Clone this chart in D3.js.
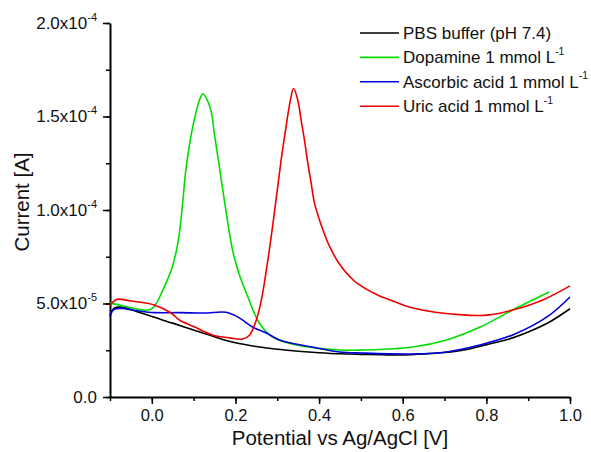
<!DOCTYPE html>
<html>
<head>
<meta charset="utf-8">
<script src="https://cdn.jsdelivr.net/npm/d3@7"></script>
<style>
  body { margin: 0; background: #fff; }
  svg { font-family: Arial, "Liberation Sans", sans-serif; }
</style>
</head>
<body>
<svg id="chart" width="591" height="452"></svg>
<script>
// potential in V, current in units of 1e-5 A
const pbsV = [-0.1, -0.09, -0.07, -0.04, 0, 0.05, 0.1, 0.15, 0.2, 0.25, 0.3, 0.35, 0.4, 0.45, 0.5, 0.55, 0.6, 0.65, 0.7, 0.75, 0.8, 0.85, 0.9, 0.95, 1.0]
const pbsI = [4.3, 4.75, 4.8, 4.6, 4.3, 3.95, 3.58, 3.22, 2.9, 2.7, 2.55, 2.45, 2.37, 2.31, 2.28, 2.26, 2.25, 2.3, 2.38, 2.53, 2.8, 3.07, 3.48, 4.0, 4.72]

const dopV = [-0.1, -0.07, -0.04, -0.015, 0.0, 0.012, 0.025, 0.037, 0.049, 0.058, 0.066, 0.074, 0.082, 0.094, 0.106, 0.115, 0.122, 0.13, 0.142, 0.15, 0.162, 0.174, 0.193, 0.21, 0.226, 0.257, 0.289, 0.346, 0.449, 0.504, 0.624, 0.705, 0.785, 0.863, 0.95]
const dopI = [5.02, 4.88, 4.72, 4.64, 4.72, 5.05, 5.65, 6.25, 6.95, 7.75, 8.77, 10.44, 12.25, 14.0, 15.26, 15.95, 16.22, 16.0, 15.26, 14.0, 12.25, 10.44, 7.86, 6.5, 5.56, 3.96, 3.21, 2.78, 2.51, 2.51, 2.67, 3.05, 3.74, 4.65, 5.61]

const ascV = [-0.1, -0.09, -0.074, -0.035, 0.006, 0.066, 0.126, 0.178, 0.21, 0.241, 0.274, 0.305, 0.384, 0.449, 0.504, 0.624, 0.705, 0.784, 0.863, 0.945, 1.0]
const ascI = [4.39, 4.69, 4.74, 4.61, 4.51, 4.51, 4.49, 4.53, 4.22, 3.74, 3.42, 3.05, 2.67, 2.41, 2.35, 2.3, 2.41, 2.78, 3.32, 4.28, 5.35]

const uricV = [-0.1, -0.083, -0.05, 0.006, 0.046, 0.066, 0.1, 0.145, 0.186, 0.217, 0.234, 0.25, 0.262, 0.281, 0.297, 0.31, 0.32, 0.33, 0.339, 0.349, 0.357, 0.365, 0.373, 0.381, 0.389, 0.401, 0.413, 0.425, 0.449, 0.473, 0.489, 0.545, 0.569, 0.624, 0.744, 0.808, 0.863, 0.935, 1.0]
const uricI = [4.92, 5.22, 5.13, 4.92, 4.49, 4.12, 3.77, 3.32, 3.16, 3.1, 3.32, 4.12, 5.19, 7.86, 10.53, 12.8, 14.3, 15.7, 16.5, 15.88, 14.81, 13.74, 12.51, 11.44, 10.37, 9.47, 8.7, 8.05, 7.1, 6.45, 6.12, 5.4, 5.2, 4.76, 4.39, 4.39, 4.65, 5.19, 5.94]

const seriesNames = ['PBS buffer (pH 7.4)', 'Dopamine 1 mmol L', 'Ascorbic acid 1 mmol L', 'Uric acid 1 mmol L']
const seriesSup = ['', '-1', '-1', '-1']
const seriesColors = ['#000000', '#00dd00', '#0000dd', '#ee0000']

const xTicks = [0.0, 0.2, 0.4, 0.6, 0.8, 1.0]
const xTickLabels = ['0.0', '0.2', '0.4', '0.6', '0.8', '1.0']
const yTicks = [0, 5, 10, 15, 20]
const yTickMain = ['0.0', '5.0x10', '1.0x10', '1.5x10', '2.0x10']
const yTickExp = ['', '-5', '-4', '-4', '-4']

const svg = d3.select('#chart')

const x = d3.scaleLinear().domain([-0.1, 1.0]).range([110, 570])
const y = d3.scaleLinear().domain([0, 20]).range([397, 23])

// minor ticks first, majors on top
svg.append('g')
  .attr('transform', 'translate(0,397)')
  .call(d3.axisBottom(x).tickValues(d3.range(-1, 11).map(d => d / 10)).tickSize(4).tickSizeOuter(0).tickFormat(''))
  .call(g => g.select('.domain').remove())
  .call(g => g.selectAll('line').attr('stroke', '#000').attr('stroke-width', 1.5))

svg.append('g')
  .attr('transform', 'translate(110,0)')
  .call(d3.axisLeft(y).tickValues(d3.range(0, 9).map(d => d * 2.5)).tickSize(4).tickSizeOuter(0).tickFormat(''))
  .call(g => g.select('.domain').remove())
  .call(g => g.selectAll('line').attr('stroke', '#000').attr('stroke-width', 1.5))

svg.append('g')
  .attr('transform', 'translate(0,397)')
  .call(d3.axisBottom(x).tickValues(xTicks).tickSize(7).tickSizeOuter(0).tickPadding(5)
    .tickFormat((d, i) => xTickLabels[i]))
  .call(g => g.select('.domain').attr('stroke-width', 2))
  .call(g => g.selectAll('line').attr('stroke-width', 1.5))
  .call(g => g.selectAll('text').attr('font-size', 16.5).attr('fill', '#111').attr('font-family', null))

const yAxisG = svg.append('g')
  .attr('transform', 'translate(110,0)')
  .call(d3.axisLeft(y).tickValues(yTicks).tickSize(7).tickSizeOuter(0).tickPadding(6)
    .tickFormat((d, i) => yTickMain[i]))
  .call(g => g.select('.domain').attr('stroke-width', 2))
  .call(g => g.selectAll('line').attr('stroke-width', 1.5))
  .call(g => g.selectAll('text').attr('font-size', 17).attr('fill', '#111').attr('font-family', null))

// superscript exponents on y labels
yAxisG.selectAll('.tick text').each(function (d, i) {
  if (!yTickExp[i]) return
  d3.select(this).append('tspan')
    .attr('font-size', 11)
    .attr('dy', '-0.75em')
    .text(yTickExp[i])
})

// curves
const line = d3.line()
  .x(d => x(d[0]))
  .y(d => y(d[1]))
  .curve(d3.curveCatmullRom.alpha(0.5))

const allV = [pbsV, dopV, ascV, uricV]
const allI = [pbsI, dopI, ascI, uricI]

allV.forEach((vs, k) => {
  svg.append('path')
    .datum(vs.map((v, i) => [v, allI[k][i]]))
    .attr('fill', 'none')
    .attr('stroke', seriesColors[k])
    .attr('stroke-width', 1.6)
    .attr('d', line)
})

// legend
const legend = svg.append('g').attr('transform', 'translate(360,33)')
seriesNames.forEach((name, i) => {
  const row = legend.append('g').attr('transform', `translate(0,${i * 24.4})`)
  row.append('line')
    .attr('x1', 0).attr('x2', 39)
    .attr('stroke', seriesColors[i])
    .attr('stroke-width', 1.6)
  const t = row.append('text')
    .attr('x', 43)
    .attr('y', 6)
    .attr('font-size', 17)
    .attr('fill', '#111')
    .text(name)
  if (seriesSup[i]) {
    t.append('tspan').attr('font-size', 10.5).attr('dy', '-0.8em').text(seriesSup[i])
  }
})

// axis titles
svg.append('text')
  .attr('x', 340)
  .attr('y', 445)
  .attr('text-anchor', 'middle')
  .attr('font-size', 20.5)
  .attr('fill', '#111')
  .text('Potential vs Ag/AgCl [V]')

svg.append('text')
  .attr('transform', 'translate(29,202) rotate(-90)')
  .attr('text-anchor', 'middle')
  .attr('font-size', 20.5)
  .attr('fill', '#111')
  .text('Current [A]')
</script>
</body>
</html>
